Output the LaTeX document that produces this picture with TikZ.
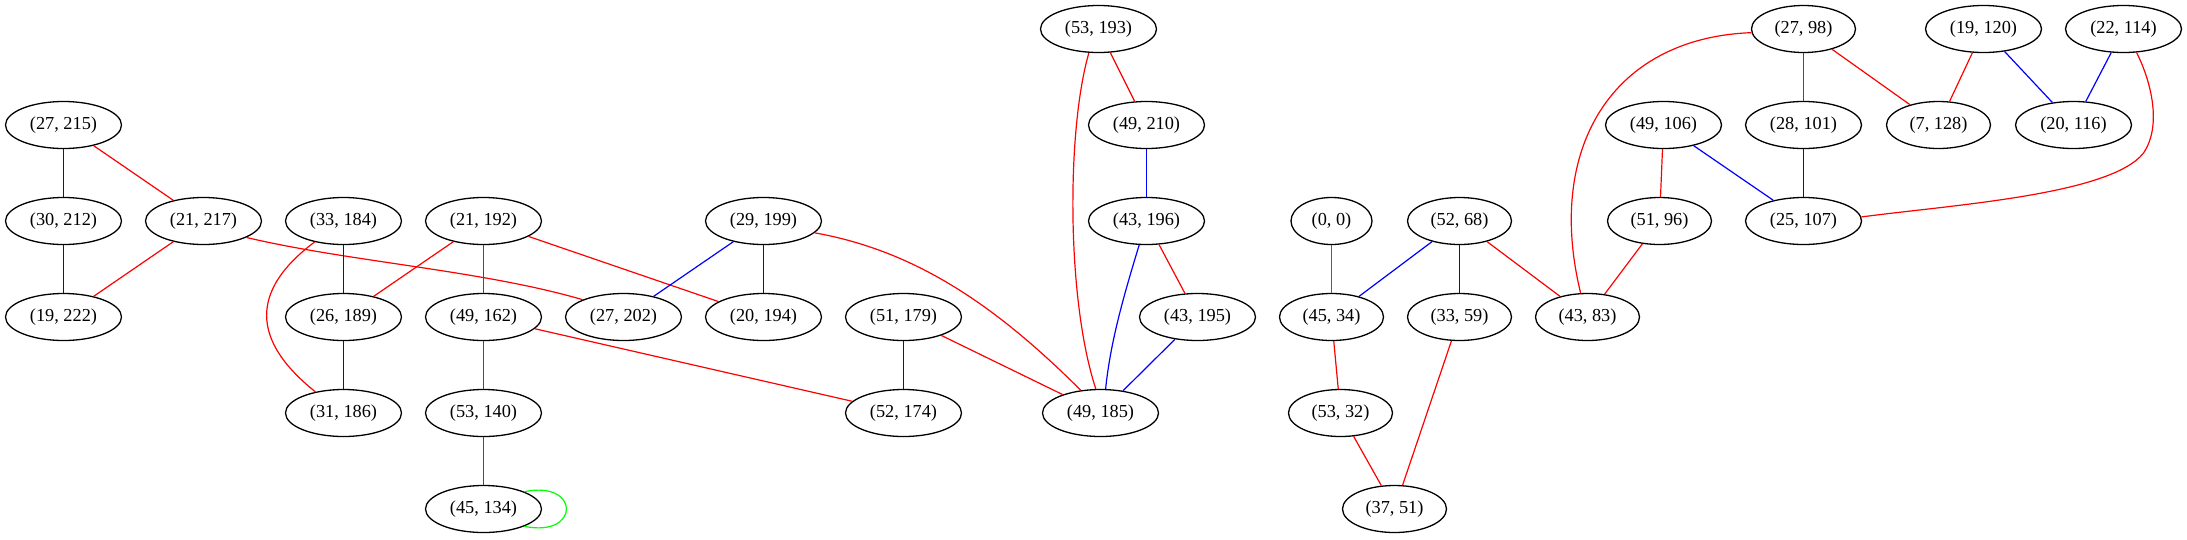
\documentclass[tikz,border=0pt]{standalone}
\usepackage{fontspec}
\setmainfont{Liberation Serif}
\usetikzlibrary{shapes.geometric}
\definecolor{gvpurple}{RGB}{160,32,240}
\definecolor{gvgreen}{RGB}{0,255,0}
\tikzset{
  gn/.style={ellipse, draw=black, line width=1.3pt, inner sep=0pt, minimum height=47pt, font=\fontsize{18.3}{22}\selectfont},
  weight/.style={gn, minimum width=116pt},
  wseven/.style={gn, minimum width=104pt},
  wsix/.style={gn, minimum width=81pt},
  ered/.style={draw=red, line width=1.2pt},
  eblue/.style={draw=blue, line width=1.2pt},
  epurple/.style={draw=gvpurple, line width=1.2pt},
  egreen/.style={draw=gvgreen, line width=1.2pt}
}
\begin{document}
\begin{tikzpicture}[x=1pt, y=-1pt]
\useasboundingbox (0,0) rectangle (2187,539);
\begin{scope}[xshift=0.5pt]
% nodes
\node[weight] (a1) at (63,125) {(27, 215)};
\node[weight] (a2) at (63,221) {(30, 212)};
\node[weight] (a3) at (63,317) {(19, 222)};
\node[weight] (a4) at (203,221) {(21, 217)};
\node[weight] (b1) at (343,221) {(33, 184)};
\node[weight] (b2) at (343,317) {(26, 189)};
\node[weight] (b3) at (343,413) {(31, 186)};
\node[weight] (c1) at (483,221) {(21, 192)};
\node[weight] (c2) at (483,317) {(49, 162)};
\node[weight] (c3) at (483,413) {(53, 140)};
\node[weight] (c4) at (483,509) {(45, 134)};
\node[weight] (d1) at (623,317) {(27, 202)};
\node[weight] (d2) at (763,221) {(29, 199)};
\node[weight] (d3) at (763,317) {(20, 194)};
\node[weight] (e1) at (903,317) {(51, 179)};
\node[weight] (e2) at (903,413) {(52, 174)};
\node[weight] (f1) at (1098,29) {(53, 193)};
\node[weight] (f2) at (1146,125) {(49, 210)};
\node[weight] (f3) at (1146,221) {(43, 196)};
\node[weight] (f4) at (1197,317) {(43, 195)};
\node[weight] (f5) at (1100,413) {(49, 185)};
\node[wsix] (g1) at (1331,221) {(0, 0)};
\node[wseven] (g2) at (1331,317) {(45, 34)};
\node[wseven] (g3) at (1340,413) {(53, 32)};
\node[wseven] (g4) at (1394,509) {(37, 51)};
\node[wseven] (h1) at (1459,221) {(52, 68)};
\node[wseven] (h2) at (1459,317) {(33, 59)};
\node[wseven] (h3) at (1587,317) {(43, 83)};
\node[weight] (i1) at (1663,125) {(49, 106)};
\node[wseven] (i2) at (1659,221) {(51, 96)};
\node[wseven] (j1) at (1803,29) {(27, 98)};
\node[weight] (j2) at (1803,125) {(28, 101)};
\node[weight] (j3) at (1803,221) {(25, 107)};
\node[wseven] (k1) at (1938,125) {(7, 128)};
\node[weight] (k2) at (1983,29) {(19, 120)};
\node[weight] (k3) at (2073,125) {(20, 116)};
\node[weight] (k4) at (2123,29) {(22, 114)};
% edges
\draw[eblue] (a1) -- (a2);
\draw[ered] (a1) -- (a4);
\draw[eblue] (a2) -- (a3);
\draw[ered] (a4) -- (a3);
\draw[ered] (a4.-21.6) .. controls (350,262) and (480,270) .. (d1.157);
\draw[eblue] (b1) -- (b2);
\draw[ered] (b1.-144) .. controls (250,290) and (250,340) .. (b3.143);
\draw[eblue] (b2) -- (b3);
\draw[ered] (c1) -- (b2);
\draw[ered] (c1) -- (c2);
\draw[ered] (c1) -- (d3);
\draw[ered] (c2) -- (c3);
\draw[ered] (c3) -- (c4);
\draw[egreen] (c4.23) .. controls (580,480) and (580,538) .. (c4.-23);
\draw[ered] (c2) -- (e2);
\draw[eblue] (d2) -- (d1);
\draw[eblue] (d2) -- (d3);
\draw[ered] (d2.-13) .. controls (910,250) and (990,300) .. (f5.131.5);
\draw[eblue] (e1) -- (e2);
\draw[ered] (e1) -- (f5);
\draw[ered] (f1) -- (f2);
\draw[ered] (f1.-112.6) .. controls (1066,130) and (1066,300) .. (f5.101.8);
\draw[eblue] (f2) -- (f3);
\draw[eblue] (f3.-107.7) .. controls (1125,290) and (1110,340) .. (f5.78.2);
\draw[ered] (f3) -- (f4);
\draw[eblue] (f4) -- (f5);
\draw[epurple] (g1) -- (g2);
\draw[eblue] (h1) -- (g2);
\draw[eblue] (h1) -- (h2);
\draw[ered] (h1) -- (h3);
\draw[ered] (g2) -- (g3);
\draw[ered] (g3) -- (g4);
\draw[ered] (h2) -- (g4);
\draw[ered] (i1) -- (i2);
\draw[eblue] (i1) -- (j3);
\draw[ered] (i2) -- (h3);
\draw[ered] (j1) -- (j2);
\draw[ered] (j1) -- (k1);
\draw[ered] (j1.-176.6) .. controls (1610,38) and (1545,150) .. (h3.106);
\draw[eblue] (j2) -- (j3);
\draw[ered] (k2) -- (k1);
\draw[eblue] (k2) -- (k3);
\draw[eblue] (k4) -- (k3);
\draw[ered] (k4.-61.6) .. controls (2150,80) and (2162,125) .. (2143,153) .. controls (2110,195) and (1950,205) .. (j3.4);
\end{scope}
\end{tikzpicture}
\end{document}
